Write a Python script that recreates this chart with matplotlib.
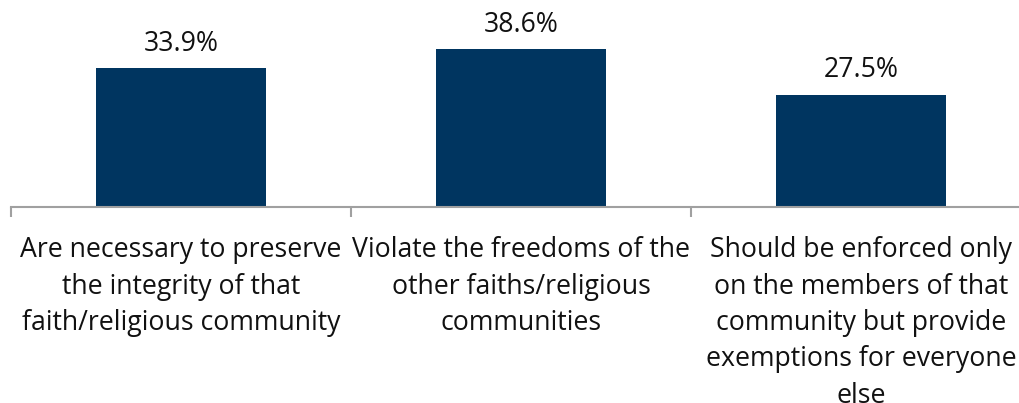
import numpy as np
import matplotlib
from matplotlib import pyplot as plt

matplotlib.rcParams['font.family'] = ['Open Sans', 'DejaVu Sans']

categories = ['Are necessary to preserve\nthe integrity of that\nfaith/religious community',
              'Violate the freedoms of the\nother faiths/religious\ncommunities',
              'Should be enforced only\non the members of that\ncommunity but provide\nexemptions for everyone\nelse']
values = [33.9, 38.6, 27.5]

fig = plt.figure(figsize=(10.2, 4.03), dpi=100)
ax = fig.add_axes([11/1020, 196/403, 1020/1020, 184/403])
x = np.arange(len(values))
ax.bar(x, values, width=0.5, color='#003560')
for xi, v in zip(x, values):
    ax.text(xi, v + 2.6, '%.1f%%' % v, ha='center', va='bottom', fontsize=19.2, color='#111111')

ax.set_xlim(-0.5, 2.5)
ax.set_ylim(0, 45)
ax.set_yticks([])
for s in ['top', 'right', 'left']:
    ax.spines[s].set_visible(False)
ax.spines['bottom'].set_color('#a0a0a0')
ax.spines['bottom'].set_linewidth(1.5)
ax.set_xticks(x)
ax.set_xticklabels(categories, fontsize=19.2, color='#111111', linespacing=1.40)
ax.tick_params(axis='x', which='major', length=0, pad=21)
ax.set_xticks([-0.5, 0.5, 1.5, 2.5], minor=True)
ax.tick_params(axis='x', which='minor', length=7, width=1.5, color='#a0a0a0')

fig.savefig('out.png', dpi=100)
